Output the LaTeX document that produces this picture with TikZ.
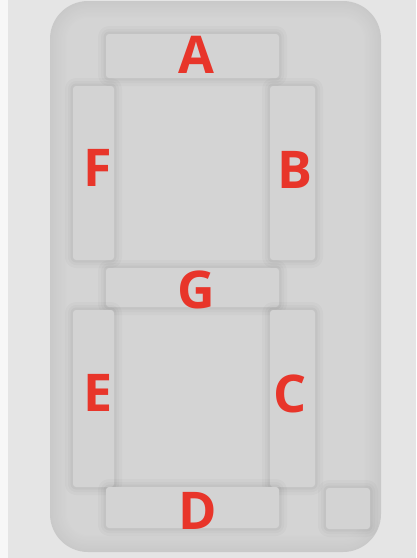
\documentclass[tikz,border=0pt]{standalone}
\usepackage{fontspec}
\setsansfont{Open Sans}
\definecolor{segred}{HTML}{E8352A}
\definecolor{bggray}{HTML}{E5E5E5}
\definecolor{seggray}{HTML}{D3D3D3}

\begin{document}
\begin{tikzpicture}[x=1pt, y=-1pt,
  seg/.style={fill=seggray, rounded corners=3pt, inner sep=0pt, line join=round,
    preaction={draw=black, draw opacity=0.025, line width=16pt},
    preaction={draw=black, draw opacity=0.025, line width=10pt},
    preaction={draw=black, draw opacity=0.03, line width=5pt}},
  lbl/.style={text=segred, font=\sffamily\bfseries\fontsize{52}{52}\selectfont, inner sep=0pt}]

% Draw the background
\useasboundingbox (0,0) rectangle (416,558);
\fill[white!97!black] (0,0) rectangle (8,558);
\fill[bggray] (8,0) rectangle (416,558);

% draw the panel, darker at its rim
\def\rad{38}
\foreach \i in {0,...,14}{
  \pgfmathsetmacro{\shade}{21-\i*4/14}
  \pgfmathsetmacro{\inset}{\i*1.2}
  \fill[black!\shade, rounded corners=\rad-\inset] (50+\inset,1+\inset) rectangle (381-\inset,552-\inset);
}

% the segments
\node[seg, minimum width=173pt, minimum height=44pt] (segA) at (192.5,56) {};
\node[seg, minimum width=41pt, minimum height=174pt] (segF) at (93.5,173) {};
\node[seg, minimum width=45pt, minimum height=174pt] (segB) at (292.5,173) {};
\node[seg, minimum width=173pt, minimum height=39pt] (segG) at (192.5,287.5) {};
\node[seg, minimum width=41pt, minimum height=177pt] (segE) at (93.5,398.5) {};
\node[seg, minimum width=45pt, minimum height=177pt] (segC) at (292.5,398.5) {};
\node[seg, minimum width=173pt, minimum height=41pt] (segD) at (192.5,507.5) {};
\node[seg, minimum width=44pt, minimum height=41pt] (segDP) at (348,508.5) {};

% the letters
\node[lbl] (labA) at (196,55) {A};
\node[lbl] (labF) at (98,168) {F};
\node[lbl] (labB) at (295,170) {B};
\node[lbl] (labG) at (196,290) {G};
\node[lbl] (labE) at (98,393) {E};
\node[lbl] (labC) at (290,394) {C};
\node[lbl] (labD) at (198,511) {D};
\end{tikzpicture}
\end{document}
